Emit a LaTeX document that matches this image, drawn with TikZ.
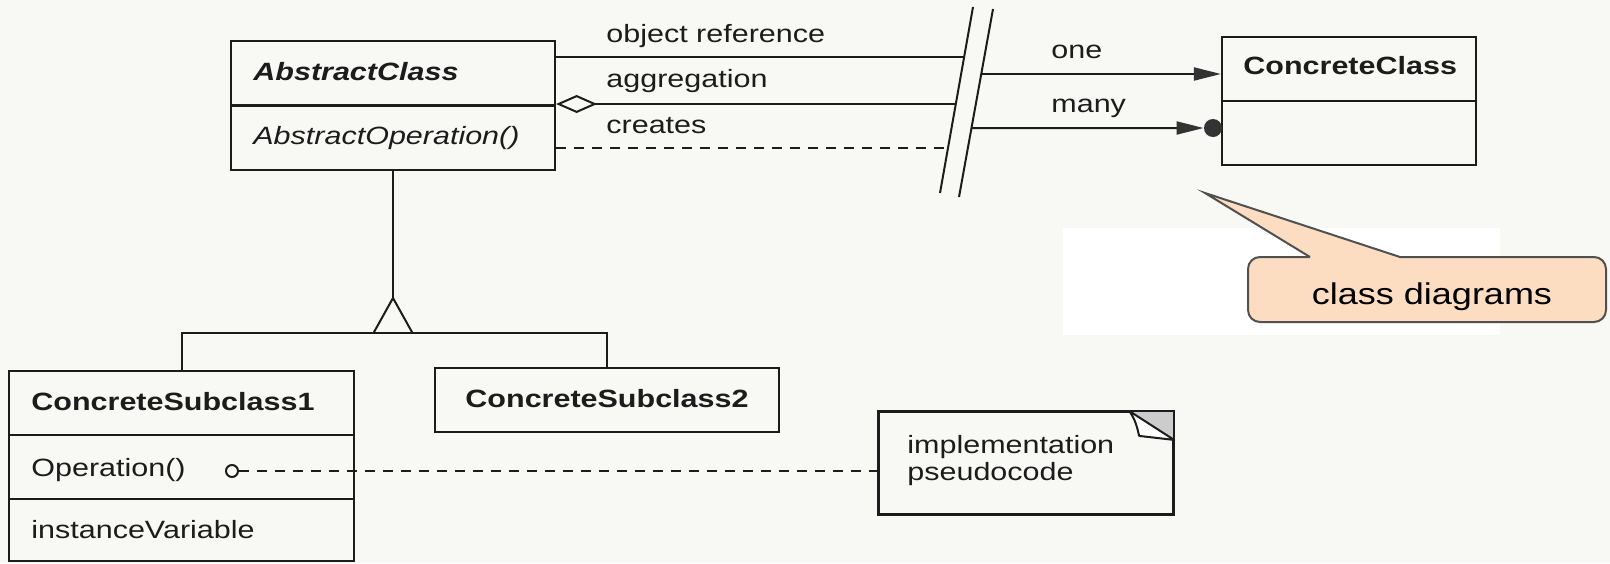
\documentclass[tikz,border=0pt]{standalone}
\usepackage{fontspec}
\setmainfont{Liberation Sans}[FakeStretch=1.22]
\newfontfamily\calloutfont{Liberation Sans}[FakeStretch=1.2]
\usetikzlibrary{arrows.meta,calc}
\definecolor{paper}{HTML}{F8F8F5}
\definecolor{ink}{HTML}{1C1C1C}
\definecolor{peach}{HTML}{FCDDC2}
\definecolor{calloutline}{HTML}{505050}
\definecolor{headink}{HTML}{333333}
\newcommand\diagfont{\fontsize{12.5}{15}\selectfont}

\begin{document}
\begin{tikzpicture}[x=0.5pt,y=-0.5pt,
  every node/.style={font=\diagfont, text=ink},
  box/.style={draw=ink, line width=1.1pt, inner sep=0pt},
  divider/.style={draw=ink, line width=1.1pt},
  lbl/.style={anchor=base west, inner sep=0pt},
  link/.style={draw=ink, line width=1pt},
  dep/.style={link, dash pattern=on 5pt off 4pt},
  tri/.style={-{Triangle[length=13.5pt,width=6.5pt,color=headink]}},
]
% paper
\fill[paper] (0,0) rectangle (1610,563);
\fill[white] (1063,228) rectangle (1500,335);
\useasboundingbox (0,0) rectangle (1610,563);

% AbstractClass
\node[box, minimum width=162pt, minimum height=64.5pt] (ac) at (393,105.5) {};
\draw[divider] (ac.west) -- (ac.east);
\node[lbl, font=\diagfont\bfseries\itshape] (acname) at (253,80) {AbstractClass};
\node[lbl, font=\diagfont\itshape] (acop) at (253,144) {AbstractOperation()};

% ConcreteClass
\node[box, minimum width=127pt, minimum height=64pt] (cc) at (1349,101) {};
\draw[divider] (cc.west) -- (cc.east);
\node[lbl, font=\diagfont\bfseries] (ccname) at (1243,74) {ConcreteClass};

% break marks
\coordinate (s1a) at (973,7);   \coordinate (s1b) at (940,193);
\coordinate (s2a) at (993,9);   \coordinate (s2b) at (959,197);
\draw[link] (s1a) -- (s1b);
\draw[link] (s2a) -- (s2b);
\coordinate (refend)    at ($(s1a)!0.269!(s1b)$);
\coordinate (aggend)    at ($(s1a)!0.5215!(s1b)$);
\coordinate (crend)     at ($(s1a)!0.758!(s1b)$);
\coordinate (onestart)  at ($(s2a)!0.3457!(s2b)$);
\coordinate (manystart) at ($(s2a)!0.633!(s2b)$);

% relations of AbstractClass
\draw[link] (ac.east |- refend) -- (refend);
\draw[link, {Diamond[open,length=20.5pt,width=9pt]}-] (ac.east |- aggend) -- (aggend);
\draw[dep] (ac.east |- crend) -- (crend);
\node[lbl] (lref) at (606,42) {object reference};
\node[lbl] (lagg) at (606,87) {aggregation};
\node[lbl] (lcre) at (606,133) {creates};

% relations to ConcreteClass
\draw[link, tri] (onestart) -- (cc.west |- onestart);
\node[circle, fill=headink, minimum size=9pt, inner sep=0pt] (dot) at (1213,128) {};
\draw[link, tri] (manystart) -- (dot.west);
\node[lbl] (lone) at (1051,58) {one};
\node[lbl] (lmany) at (1051,112) {many};

% subclasses
\node[box, minimum width=172.5pt, minimum height=95pt] (sub1) at (181.5,466) {};
\draw[divider] (sub1.west |- 0,435) -- (sub1.east |- 0,435);
\draw[divider] (sub1.west |- 0,499) -- (sub1.east |- 0,499);
\node[lbl, font=\diagfont\bfseries] (sub1name) at (31,410) {ConcreteSubclass1};
\node[lbl] (sub1op) at (31,476) {Operation()};
\node[lbl] (sub1var) at (31,538) {instanceVariable};

\node[box, minimum width=172pt, minimum height=32pt] (sub2) at (607,400) {};
\node[anchor=base, inner sep=0pt, font=\diagfont\bfseries] (sub2name) at (607,407) {ConcreteSubclass2};

% inheritance
\coordinate (gen) at (393,333);
\coordinate (apex) at (393,298);
\draw[link] (ac.south) -- (apex);
\draw[link, line join=miter] ($(gen)+(-19.5,0)$) -- (apex) -- ($(gen)+(19.5,0)$);
\draw[link] (sub1.north) -- (sub1.north |- gen) -- (sub2.north |- gen) -- (sub2.north);

% note with folded corner
\node[box, minimum width=147pt, minimum height=51pt] (note) at (1026,463) {};
\fill[gray!40] ($(note.north east)+(-45,0)$) -- (note.north east) -- ($(note.north east)+(0,29)$) -- cycle;
\filldraw[fill=white, draw=ink, line width=1pt, line join=round]
  ($(note.north east)+(-45,0)$) .. controls ($(note.north east)+(-39,8)$) and ($(note.north east)+(-37,16)$) .. ($(note.north east)+(-35,25)$)
  -- ($(note.north east)+(0,29)$) -- cycle;
\draw[box] (note.north west) rectangle (note.south east);
\node[lbl] (note1) at (907,453) {implementation};
\node[lbl] (note2) at (907,480) {pseudocode};

% implementation link
\node[circle, draw=ink, line width=1pt, minimum size=6pt, inner sep=0pt] (opc) at (232,471) {};
\draw[dep] (opc.east) -- (opc.east -| note.west);

% callout
\node[draw=calloutline, fill=peach, line width=1pt, rounded corners=6pt,
      minimum width=179pt, minimum height=32.5pt, inner sep=0pt] (call) at (1427,289.5) {};
\coordinate (tip) at (1205,193);
\fill[peach] (1311,260) -- (1310,257) -- (tip) -- (1400,257) -- (1399,260) -- cycle;
\draw[calloutline, line width=1pt, line join=miter] (1310,257) -- (tip) -- (1400,257);
\node[anchor=base, inner sep=0pt, font=\calloutfont\fontsize{15}{18}\selectfont, text=black] (calltext) at (1432,304) {class diagrams};
\end{tikzpicture}
\end{document}
